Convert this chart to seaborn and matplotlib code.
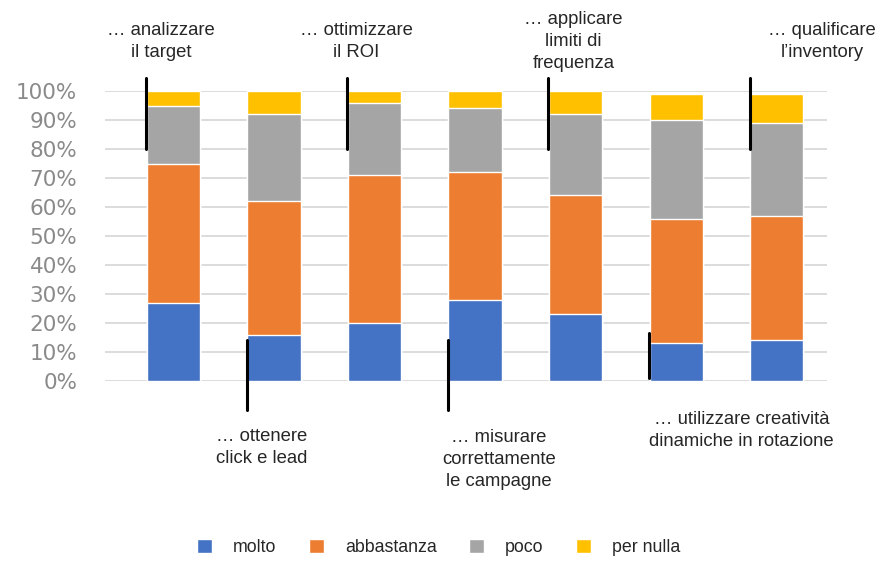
import numpy as np
import pandas as pd
import seaborn as sns
import matplotlib.pyplot as plt
from matplotlib.patches import Patch

# ------------------------------------------------------------
# DATI (quote percentuali per risposta)
# ------------------------------------------------------------
categorie = [
    "… analizzare\nil target",
    "… ottenere\nclick e lead",
    "… ottimizzare\nil ROI",
    "… misurare\ncorrettamente\nle campagne",
    "… applicare\nlimiti di\nfrequenza",
    "… utilizzare creatività\ndinamiche in rotazione",
    "… qualificare\nl’inventory",
]
molto = [27, 16, 20, 28, 23, 13, 14]
abbastanza = [48, 46, 51, 44, 41, 43, 43]
poco = [20, 30, 25, 22, 28, 34, 32]
per_nulla = [5, 8, 4, 6, 8, 9, 10]

risposte = ["molto", "abbastanza", "poco", "per nulla"]
colori = ["#4472C4", "#ED7D31", "#A5A5A5", "#FFC000"]

# posizione etichette: sopra o sotto il grafico
lato = ["top", "bottom", "top", "bottom", "top", "bottom", "top"]
# spostamento orizzontale del testo rispetto alla barra
dx_testo = [-0.12, -0.12, -0.18, 0.24, -0.02, 0.65, 0.45]
y_testo = [117, -23, 117, -27, 117, -17, 117]

df = pd.DataFrame({"categoria": categorie, "molto": molto,
                   "abbastanza": abbastanza, "poco": poco,
                   "per nulla": per_nulla})
cum = df[risposte].cumsum(axis=1)

# ------------------------------------------------------------
# GRAFICO
# ------------------------------------------------------------
sns.set_style("white")
plt.rcParams["font.family"] = ["Liberation Sans", "DejaVu Sans"]

fig = plt.figure(figsize=(8.95, 5.62), dpi=100)
ax = fig.add_axes([105 / 895, 1 - 381 / 562, (827 - 105) / 895, 290 / 562])

# barre impilate: cumulati disegnati dal più alto al più basso
for r, c in reversed(list(zip(risposte, colori))):
    sns.barplot(x=df["categoria"], y=cum[r], color=c, width=0.53,
                saturation=1, ax=ax, zorder=3)

ax.set_ylim(0, 100)
ax.set_xlim(-0.68, 6.5)
ax.set_yticks(range(0, 101, 10))
ax.set_yticklabels([f"{v}%" for v in range(0, 101, 10)],
                   family="DejaVu Sans", fontsize=15.5, color="#8a8a8a")
ax.tick_params(axis="y", length=0, pad=20)
ax.set_xticks([])
ax.set_xlabel("")
ax.set_ylabel("")
ax.yaxis.grid(True, color="#d9d9d9", lw=1.3, zorder=0)
for s in ax.spines.values():
    s.set_visible(False)

# etichette con linee di richiamo
for i, (testo, pos) in enumerate(zip(categorie, lato)):
    xl = i - 0.27
    if pos == "top":
        y0, y1 = 80, 104.5
    elif i == 5:
        y0, y1 = 16.5, 1
    else:
        y0, y1 = 14, -10
    ax.plot([xl, xl], [y0, y1], color="black", lw=2.2,
            clip_on=False, zorder=5)
    ax.text(i + dx_testo[i], y_testo[i], testo, ha="center", va="center",
            multialignment="center", fontsize=13.3, linespacing=1.4,
            clip_on=False)

maniglie = [Patch(facecolor=c, label=r) for r, c in zip(risposte, colori)]
fig.legend(handles=maniglie, loc="center", bbox_to_anchor=(0.49, 0.026),
           ncol=4, frameon=False, fontsize=12.8, handlelength=0.85,
           handleheight=0.8, handletextpad=1.2, columnspacing=1.8)

fig.savefig("out.png", dpi=100)
